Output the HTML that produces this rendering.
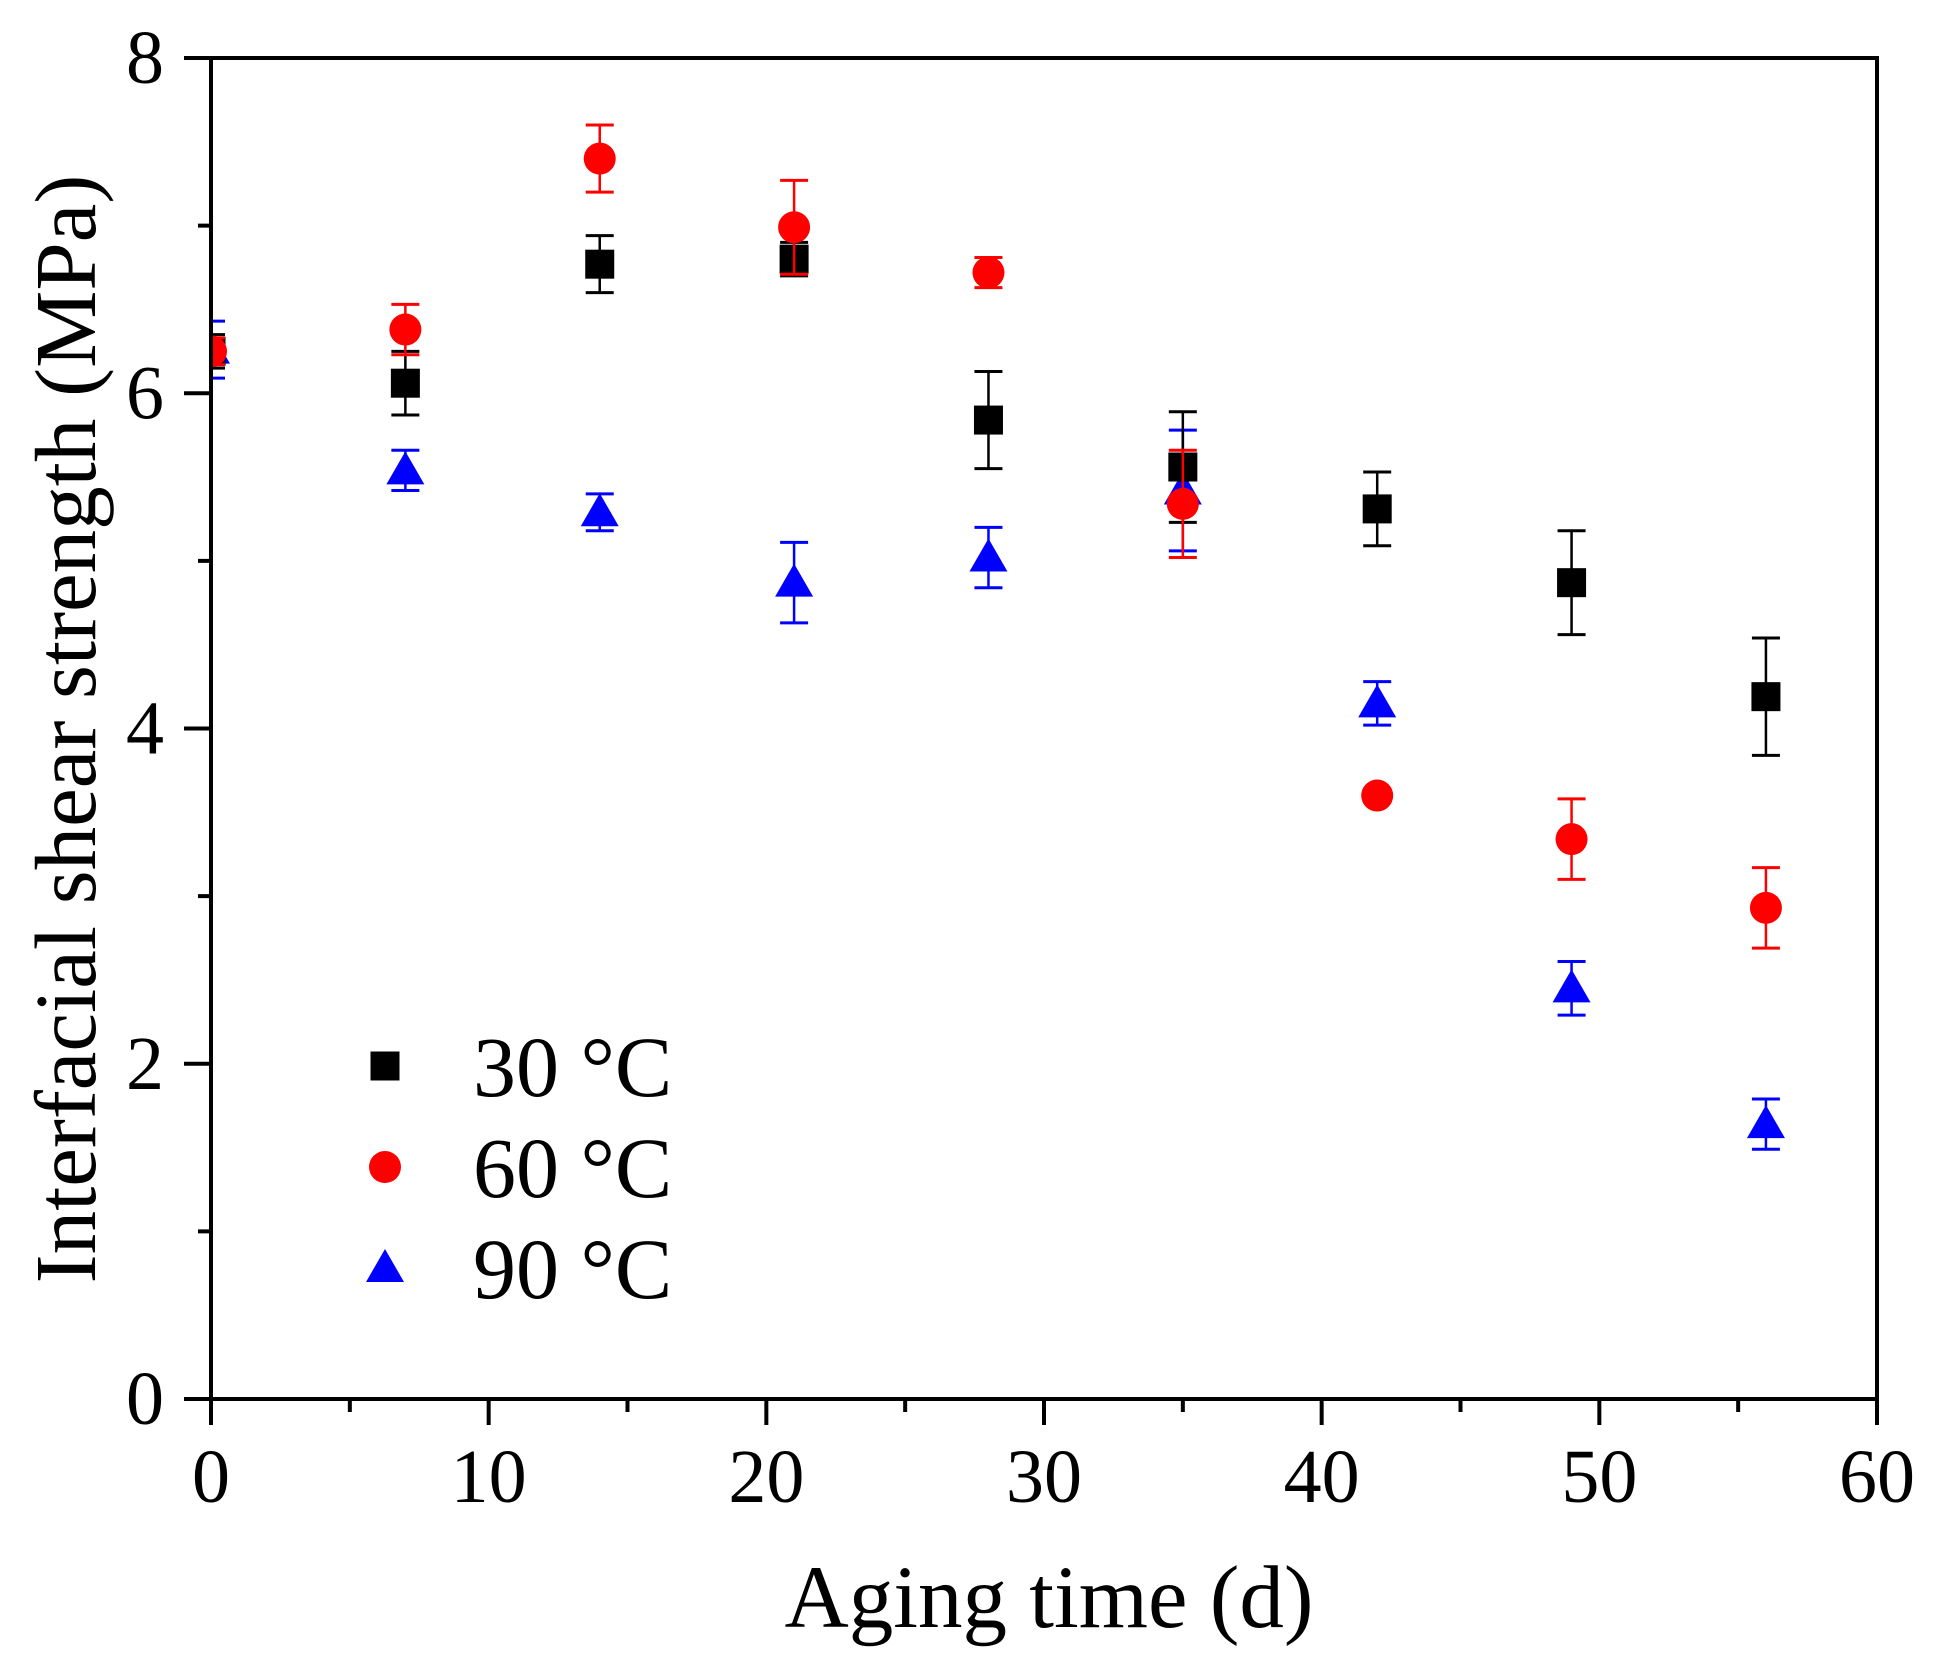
<!DOCTYPE html>
<html><head><meta charset="utf-8"><style>
html,body{margin:0;padding:0;background:#fff;}
svg{display:block;font-family:"Liberation Serif","Times New Roman",serif;}
</style></head><body>
<svg id="chart" width="1937" height="1660" viewBox="0 0 1937 1660" xmlns="http://www.w3.org/2000/svg">
<defs><clipPath id="plotclip"><rect x="211" y="58" width="1666" height="1341"/></clipPath></defs>
<rect width="1937" height="1660" fill="#fff"/>
<g id="marks" clip-path="url(#plotclip)"></g>
<g id="axes"></g>
</svg>
<script>
const days = [0, 7, 14, 21, 28, 35, 42, 49, 56];
const s30 = [6.25, 6.06, 6.77, 6.80, 5.84, 5.56, 5.31, 4.87, 4.19];
const e30 = [0.10, 0.19, 0.17, 0.10, 0.29, 0.33, 0.22, 0.31, 0.35];
const s60 = [6.25, 6.38, 7.40, 6.99, 6.72, 5.34, 3.60, 3.34, 2.93];
const e60 = [0.08, 0.15, 0.20, 0.28, 0.09, 0.32, 0.04, 0.24, 0.24];
const s90 = [6.26, 5.54, 5.29, 4.87, 5.02, 5.42, 4.15, 2.45, 1.64];
const e90 = [0.17, 0.12, 0.11, 0.24, 0.18, 0.36, 0.13, 0.16, 0.15];
const xTicks = [0, 10, 20, 30, 40, 50, 60];
const yTicks = [0, 2, 4, 6, 8];
const legendLabels = ["30 °C", "60 °C", "90 °C"];

const NS = "http://www.w3.org/2000/svg";
const X0 = 211, X1 = 1877, Y0 = 1399, Y1 = 58;
function xs(v){ return X0 + (v - 0) / 60 * (X1 - X0); }
function ys(v){ return Y0 - v / 8 * (Y0 - Y1); }
function mk(tag, attrs, parent){
  const e = document.createElementNS(NS, tag);
  for (const k in attrs) e.setAttribute(k, attrs[k]);
  parent.appendChild(e);
  return e;
}
const marks = document.getElementById('marks');
const axes = document.getElementById('axes');

function drawMarker(shape, color, cx, cy, parent){
  let m;
  if (shape === 'square') {
    m = mk('rect', {x: cx - 14.5, y: cy - 14.5, width: 29, height: 29, fill: color}, parent);
  } else if (shape === 'circle') {
    m = mk('circle', {cx: cx, cy: cy, r: 16, fill: color}, parent);
  } else {
    m = mk('polygon', {points: `${cx},${cy-19} ${cx-19},${cy+14} ${cx+19},${cy+14}`, fill: color}, parent);
  }
  return m;
}

const series = [
  {name: '30c', vals: s30, errs: e30, color: '#000', shape: 'square'},
  {name: '60c', vals: s60, errs: e60, color: '#ff0000', shape: 'circle'},
  {name: '90c', vals: s90, errs: e90, color: '#0000ff', shape: 'triangle'}
];
const order = [2, 0, 1];
order.forEach(si => {
  const s = series[si];
  const g = mk('g', {}, marks);
  
  
  days.forEach((d, i) => {
    const cx = xs(d), cy = ys(s.vals[i]);
    const top = ys(s.vals[i] + s.errs[i]), bot = ys(s.vals[i] - s.errs[i]);
    const eb = mk('g', {stroke: s.color, 'stroke-width': 2.5}, g);
    
    
    mk('line', {x1: cx, y1: top, x2: cx, y2: bot}, eb);
    mk('line', {x1: cx - 14, y1: top, x2: cx + 14, y2: top, 'stroke-width': 3}, eb);
    mk('line', {x1: cx - 14, y1: bot, x2: cx + 14, y2: bot, 'stroke-width': 3}, eb);
    const m = drawMarker(s.shape, s.color, cx, cy, g);
    
    
  });
});

const frame = mk('rect', {x: X0, y: Y1, width: X1 - X0, height: Y0 - Y1, fill: 'none', stroke: '#000', 'stroke-width': 4}, axes);



xTicks.forEach((t, i) => {
  const x = xs(t);
  const tk = mk('line', {x1: x, y1: Y0, x2: x, y2: Y0 + 26, stroke: '#000', 'stroke-width': 4}, axes);
  
  
  const lb = mk('text', {x: x, y: 1502, 'font-size': 76, 'text-anchor': 'middle', fill: '#000'}, axes);
  lb.textContent = t;
  
  
  if (i < xTicks.length - 1) {
    const mx = xs(t + 5);
    const mn = mk('line', {x1: mx, y1: Y0, x2: mx, y2: Y0 + 13, stroke: '#000', 'stroke-width': 4}, axes);
    
    
  }
});
yTicks.forEach((t, i) => {
  const y = ys(t);
  const tk = mk('line', {x1: X0 - 27, y1: y, x2: X0, y2: y, stroke: '#000', 'stroke-width': 4}, axes);
  
  
  const lb = mk('text', {x: 164, y: y + 25, 'font-size': 76, 'text-anchor': 'end', fill: '#000'}, axes);
  lb.textContent = t;
  
  
  if (i < yTicks.length - 1) {
    const my = ys(t + 1);
    const mn = mk('line', {x1: X0 - 13, y1: my, x2: X0, y2: my, stroke: '#000', 'stroke-width': 4}, axes);
    
    
  }
});

const xt = mk('text', {x: 1049, y: 1627, 'font-size': 89, 'text-anchor': 'middle', fill: '#000'}, axes);
xt.textContent = 'Aging time (d)';


const yt = mk('text', {x: 0, y: 0, 'font-size': 87, 'text-anchor': 'middle', fill: '#000', transform: 'translate(95,729) rotate(-90)'}, axes);
yt.textContent = 'Interfacial shear strength (MPa)';



const lg = mk('g', {}, axes);


const legY = [1066, 1167, 1268];
series.forEach((s, i) => {
  const e = mk('g', {}, lg);
  
  
  drawMarker(s.shape, s.color, 385, legY[i], e);
  const t = mk('text', {x: 473, y: legY[i] + 30, 'font-size': 86, fill: '#000'}, e);
  t.textContent = legendLabels[i];
});
</script>
</body></html>
